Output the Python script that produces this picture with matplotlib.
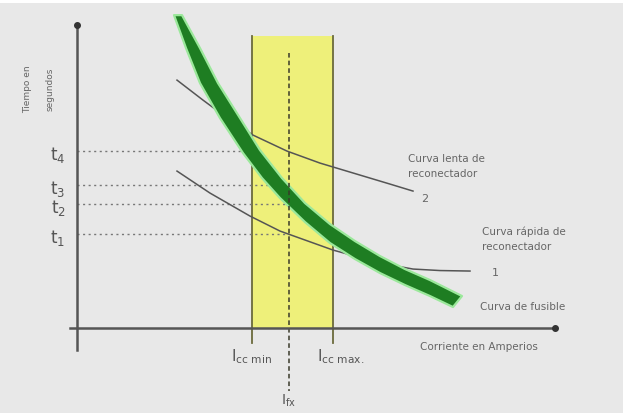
import matplotlib
matplotlib.use("Agg")
import matplotlib.pyplot as plt
from matplotlib.patches import Polygon, Rectangle

# ---- data (diagram coordinates, image-like units, y grows downward) ----
fuse_upper_x = [182, 200, 218, 240, 260, 282, 305, 330, 355, 380, 405, 430, 462]
fuse_upper_y = [12, 45, 80, 115, 147, 175, 200, 221, 238, 253, 266, 277, 293]
fuse_lower_x = [453, 430, 405, 380, 355, 330, 305, 280, 262, 243, 220, 200, 186, 174]
fuse_lower_y = [304, 293, 282, 270, 256, 240, 219, 195, 175, 150, 115, 80, 45, 12]

slow_x = [177, 203, 230, 253, 287, 320, 360, 390, 413]
slow_y = [77, 97, 117, 132, 148, 160, 172, 181, 188]

fast_x = [177, 210, 250, 280, 333, 380, 413, 440, 470]
fast_y = [168, 190, 213, 228, 247, 260, 266, 267.5, 268]

time_labels = ["4", "3", "2", "1"]
time_levels = [148, 182, 201, 231]
time_ends = [250, 289, 289, 289]

icc_min, icc_max, i_fx = 252, 333, 289
y_axis_x, x_axis_y = 77, 325

fig = plt.figure(figsize=(6.23, 4.14), dpi=100, facecolor="white")
ax = fig.add_axes([0.0, 0.0, 1.0, 0.99])
ax.set_facecolor("#e8e8e8")
ax.set_xlim(0, 623)
ax.set_ylim(410, 0)
ax.axis("off")
ax.add_patch(Rectangle((0, 0), 623, 414, facecolor="#e8e8e8", edgecolor="none", zorder=0))

# yellow zone
ax.add_patch(Rectangle((icc_min, 33), icc_max - icc_min, x_axis_y - 33,
                       facecolor="#eef07a", edgecolor="none", zorder=1))
ax.plot([icc_min, icc_min], [33, 340], color="#6b6a3c", lw=1.3, zorder=2)
ax.plot([icc_max, icc_max], [33, 340], color="#6b6a3c", lw=1.3, zorder=2)

# Ifx dashed line
ax.plot([i_fx, i_fx], [50, 388], color="#3a3a2a", lw=1.1, ls=(0, (3, 2)), zorder=5)

# time dotted lines
for lvl, xe in zip(time_levels, time_ends):
    ax.plot([y_axis_x, xe], [lvl, lvl], color="#777777", lw=1.0, ls=(0, (1.5, 2.5)), zorder=2)

# curves of recloser
ax.plot(slow_x, slow_y, color="#555555", lw=1.1, zorder=3)
ax.plot(fast_x, fast_y, color="#555555", lw=1.1, zorder=3)

# fuse band
pts = list(zip(fuse_upper_x + fuse_lower_x, fuse_upper_y + fuse_lower_y))
ax.add_patch(Polygon(pts, closed=True, facecolor="#1e7d22", edgecolor="#9be89b",
                     lw=1.6, joinstyle="round", zorder=4))

# axes
ax.plot([y_axis_x, y_axis_x], [22, 347], color="#555555", lw=1.8, zorder=6)
ax.plot([y_axis_x], [22], marker="o", ms=4, color="#333333", zorder=7)
ax.plot([70, 555], [x_axis_y, x_axis_y], color="#555555", lw=1.8, zorder=6)
ax.plot([555], [x_axis_y], marker="o", ms=4, color="#333333", zorder=7)

# time labels
for lab, lvl in zip(time_labels, time_levels):
    ax.text(58, lvl + 3, r"$\mathrm{t}_{%s}$" % lab, fontsize=12, color="#555555",
            family="DejaVu Serif", ha="center", va="center", zorder=8)

# y axis title
ax.text(28, 85, "Tiempo en", rotation=90, fontsize=6.5, color="#666666",
        ha="center", va="center")
ax.text(50, 85, "segundos", rotation=90, fontsize=6.5, color="#666666",
        ha="center", va="center")

# current labels
tc = "#555555"
ax.text(icc_min, 353, r"$\mathrm{I}_{\mathrm{cc\ min}}$", fontsize=11, color=tc,
        ha="center", va="center", family="DejaVu Serif")
ax.text(icc_max + 8, 353, r"$\mathrm{I}_{\mathrm{cc\ max.}}$", fontsize=11, color=tc,
        ha="center", va="center", family="DejaVu Serif")
ax.text(i_fx, 397, r"$\mathrm{I}_{\mathrm{fx}}$", fontsize=10, color=tc,
        ha="center", va="center", family="DejaVu Serif")
ax.text(420, 343, "Corriente en Amperios", fontsize=7.5, color="#666666",
        ha="left", va="center")

# curve annotations
ax.text(408, 155, "Curva lenta de", fontsize=7.5, color="#666666", ha="left", va="center")
ax.text(408, 170, "reconectador", fontsize=7.5, color="#666666", ha="left", va="center")
ax.text(425, 195, "2", fontsize=8, color="#666666", ha="center", va="center")
ax.text(482, 228, "Curva rápida de", fontsize=7.5, color="#666666", ha="left", va="center")
ax.text(482, 243, "reconectador", fontsize=7.5, color="#666666", ha="left", va="center")
ax.text(495, 269, "1", fontsize=8, color="#666666", ha="center", va="center")
ax.text(480, 303, "Curva de fusible", fontsize=7.5, color="#666666", ha="left", va="center")

fig.savefig("out.png", dpi=100, facecolor=fig.get_facecolor())
